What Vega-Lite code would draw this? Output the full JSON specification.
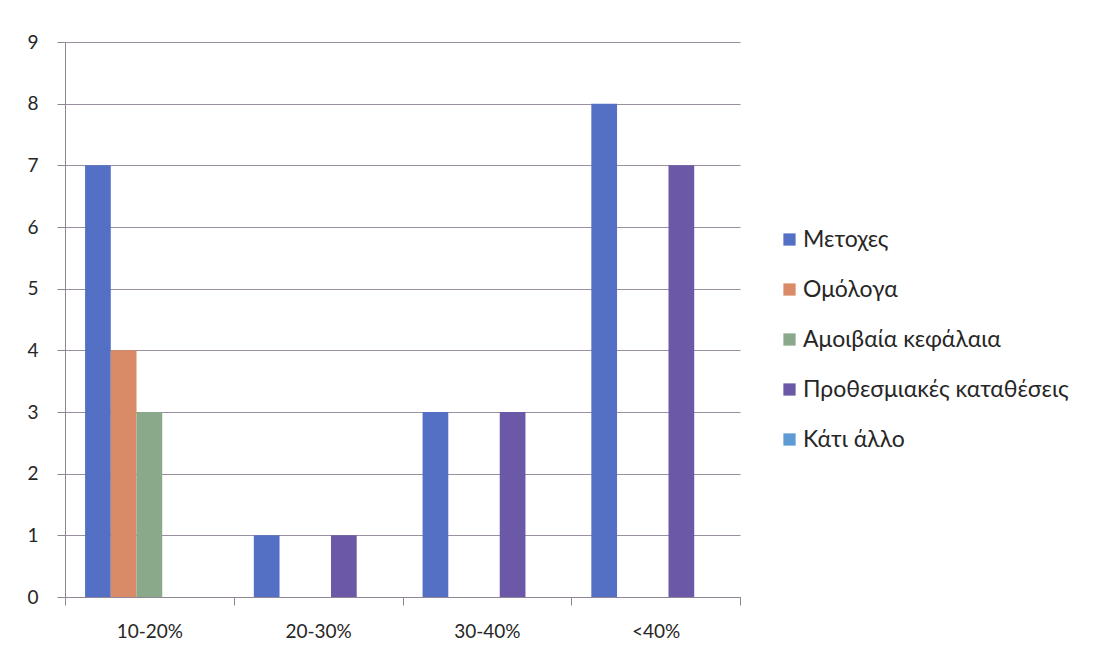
{
  "$schema": "https://vega.github.io/schema/vega-lite/v6.json",
  "width": 675,
  "height": 555,
  "autosize": {"type": "none"},
  "padding": {"left": 65, "top": 42, "right": 368, "bottom": 55},
  "background": "#ffffff",
  "config": {
    "font": "Lato",
    "view": {"stroke": null},
    "axis": {
      "labelFont": "Lato",
      "labelFontSize": 19,
      "labelColor": "#262626",
      "domainColor": "#8f8596",
      "tickColor": "#8f8596",
      "gridColor": "#9a8fa0",
      "tickSize": 8,
      "titleFontSize": 0
    }
  },
  "data": {
    "values": [
      {"range": "10-20%", "asset": "Μετοχες", "count": 7},
      {"range": "10-20%", "asset": "Ομόλογα", "count": 4},
      {"range": "10-20%", "asset": "Αμοιβαία κεφάλαια", "count": 3},
      {"range": "10-20%", "asset": "Προθεσμιακές καταθέσεις", "count": 0},
      {"range": "10-20%", "asset": "Κάτι άλλο", "count": 0},
      {"range": "20-30%", "asset": "Μετοχες", "count": 1},
      {"range": "20-30%", "asset": "Ομόλογα", "count": 0},
      {"range": "20-30%", "asset": "Αμοιβαία κεφάλαια", "count": 0},
      {"range": "20-30%", "asset": "Προθεσμιακές καταθέσεις", "count": 1},
      {"range": "20-30%", "asset": "Κάτι άλλο", "count": 0},
      {"range": "30-40%", "asset": "Μετοχες", "count": 3},
      {"range": "30-40%", "asset": "Ομόλογα", "count": 0},
      {"range": "30-40%", "asset": "Αμοιβαία κεφάλαια", "count": 0},
      {"range": "30-40%", "asset": "Προθεσμιακές καταθέσεις", "count": 3},
      {"range": "30-40%", "asset": "Κάτι άλλο", "count": 0},
      {"range": "<40%", "asset": "Μετοχες", "count": 8},
      {"range": "<40%", "asset": "Ομόλογα", "count": 0},
      {"range": "<40%", "asset": "Αμοιβαία κεφάλαια", "count": 0},
      {"range": "<40%", "asset": "Προθεσμιακές καταθέσεις", "count": 7},
      {"range": "<40%", "asset": "Κάτι άλλο", "count": 0}
    ]
  },
  "mark": {"type": "bar"},
  "encoding": {
    "x": {
      "field": "range",
      "type": "nominal",
      "sort": ["10-20%", "20-30%", "30-40%", "<40%"],
      "scale": {"paddingInner": 0, "paddingOuter": 0},
      "axis": {
        "title": null,
        "labelAngle": 0,
        "labelPadding": 17,
        "tickBand": "extent",
        "domain": true,
        "grid": false
      }
    },
    "xOffset": {
      "field": "asset",
      "type": "nominal",
      "sort": ["Μετοχες", "Ομόλογα", "Αμοιβαία κεφάλαια", "Προθεσμιακές καταθέσεις", "Κάτι άλλο"],
      "scale": {"paddingInner": 0, "paddingOuter": 0.78}
    },
    "y": {
      "field": "count",
      "type": "quantitative",
      "scale": {"domain": [0, 9], "nice": false},
      "axis": {
        "title": null,
        "values": [0, 1, 2, 3, 4, 5, 6, 7, 8, 9],
        "labelPadding": 19,
        "grid": true,
        "domain": true
      }
    },
    "color": {
      "field": "asset",
      "type": "nominal",
      "sort": ["Μετοχες", "Ομόλογα", "Αμοιβαία κεφάλαια", "Προθεσμιακές καταθέσεις", "Κάτι άλλο"],
      "scale": {
        "domain": ["Μετοχες", "Ομόλογα", "Αμοιβαία κεφάλαια", "Προθεσμιακές καταθέσεις", "Κάτι άλλο"],
        "range": ["#5470c4", "#d98a67", "#8aa88a", "#6b58a6", "#5c9bd3"]
      },
      "legend": {
        "title": null,
        "orient": "none",
        "legendX": 713,
        "legendY": 186,
        "symbolType": "square",
        "symbolSize": 150,
        "symbolStrokeWidth": 0,
        "labelFont": "Lato",
        "labelFontSize": 23,
        "labelColor": "#262626",
        "labelOffset": 2,
        "labelLimit": 400,
        "rowPadding": 26
      }
    }
  }
}
